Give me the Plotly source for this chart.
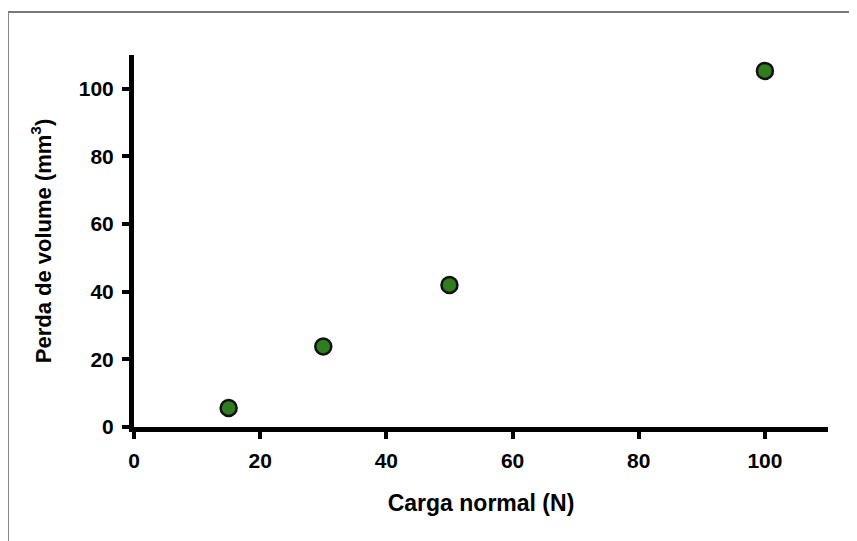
import plotly.graph_objects as go

carga_normal = [15, 30, 50, 100]
perda_volume = [5.6, 23.8, 42.0, 105.3]
x_ticks = [0, 20, 40, 60, 80, 100]
y_ticks = [0, 20, 40, 60, 80, 100]

# page body has an 8px margin, so the figure is drawn 8px in from the window edge
W, H = 849, 533
ml, mr, mt, mb = 126, 29, 47, 114
pw, ph = W - ml - mr, H - mt - mb

fig = go.Figure()
fig.add_trace(go.Scatter(
    x=carga_normal, y=perda_volume, mode="markers",
    marker=dict(size=16, color="#2f7d1f", line=dict(color="#111111", width=2.5)),
    showlegend=False, cliponaxis=False,
))

fam = "Liberation Sans, Arial, sans-serif"

fig.update_layout(
    width=W, height=H,
    margin=dict(l=ml, r=mr, t=mt, b=mb),
    paper_bgcolor="white", plot_bgcolor="white",
    font=dict(family=fam, size=22, color="#000000"),
    xaxis=dict(
        range=[0, 110], tickvals=x_ticks, ticktext=[str(v) for v in x_ticks],
        showgrid=False, zeroline=False, showline=True, linecolor="black", linewidth=5,
        ticks="outside", ticklen=7, tickwidth=4, tickcolor="black",
        ticklabelstandoff=4,
        tickfont=dict(family=fam, size=21, color="black", weight="bold"),
        title=dict(text="<b>Carga normal (N)</b>", standoff=25,
                   font=dict(family=fam, size=23, color="black")),
    ),
    yaxis=dict(
        range=[0, 110], tickvals=y_ticks, ticktext=[str(v) for v in y_ticks],
        showgrid=False, zeroline=False, showline=True, linecolor="black", linewidth=5,
        ticks="outside", ticklen=7, tickwidth=4, tickcolor="black",
        ticklabelstandoff=4,
        tickfont=dict(family=fam, size=21, color="black", weight="bold"),
        title=dict(text="<b>Perda de volume (mm<sup>3</sup>)</b>", standoff=23,
                   font=dict(family=fam, size=22, color="black")),
    ),
    shapes=[
        dict(type="line", xref="paper", yref="paper",
             x0=(0 - ml) / pw, x1=(W - ml) / pw,
             y0=(H - mb - 4) / ph, y1=(H - mb - 4) / ph,
             line=dict(color="#777777", width=2)),
        dict(type="line", xref="paper", yref="paper",
             x0=(0 - ml) / pw, x1=(0 - ml) / pw,
             y0=(H - mb - 4) / ph, y1=-(mb) / ph,
             line=dict(color="#888888", width=2)),
    ],
)

fig.write_html("out.html")
